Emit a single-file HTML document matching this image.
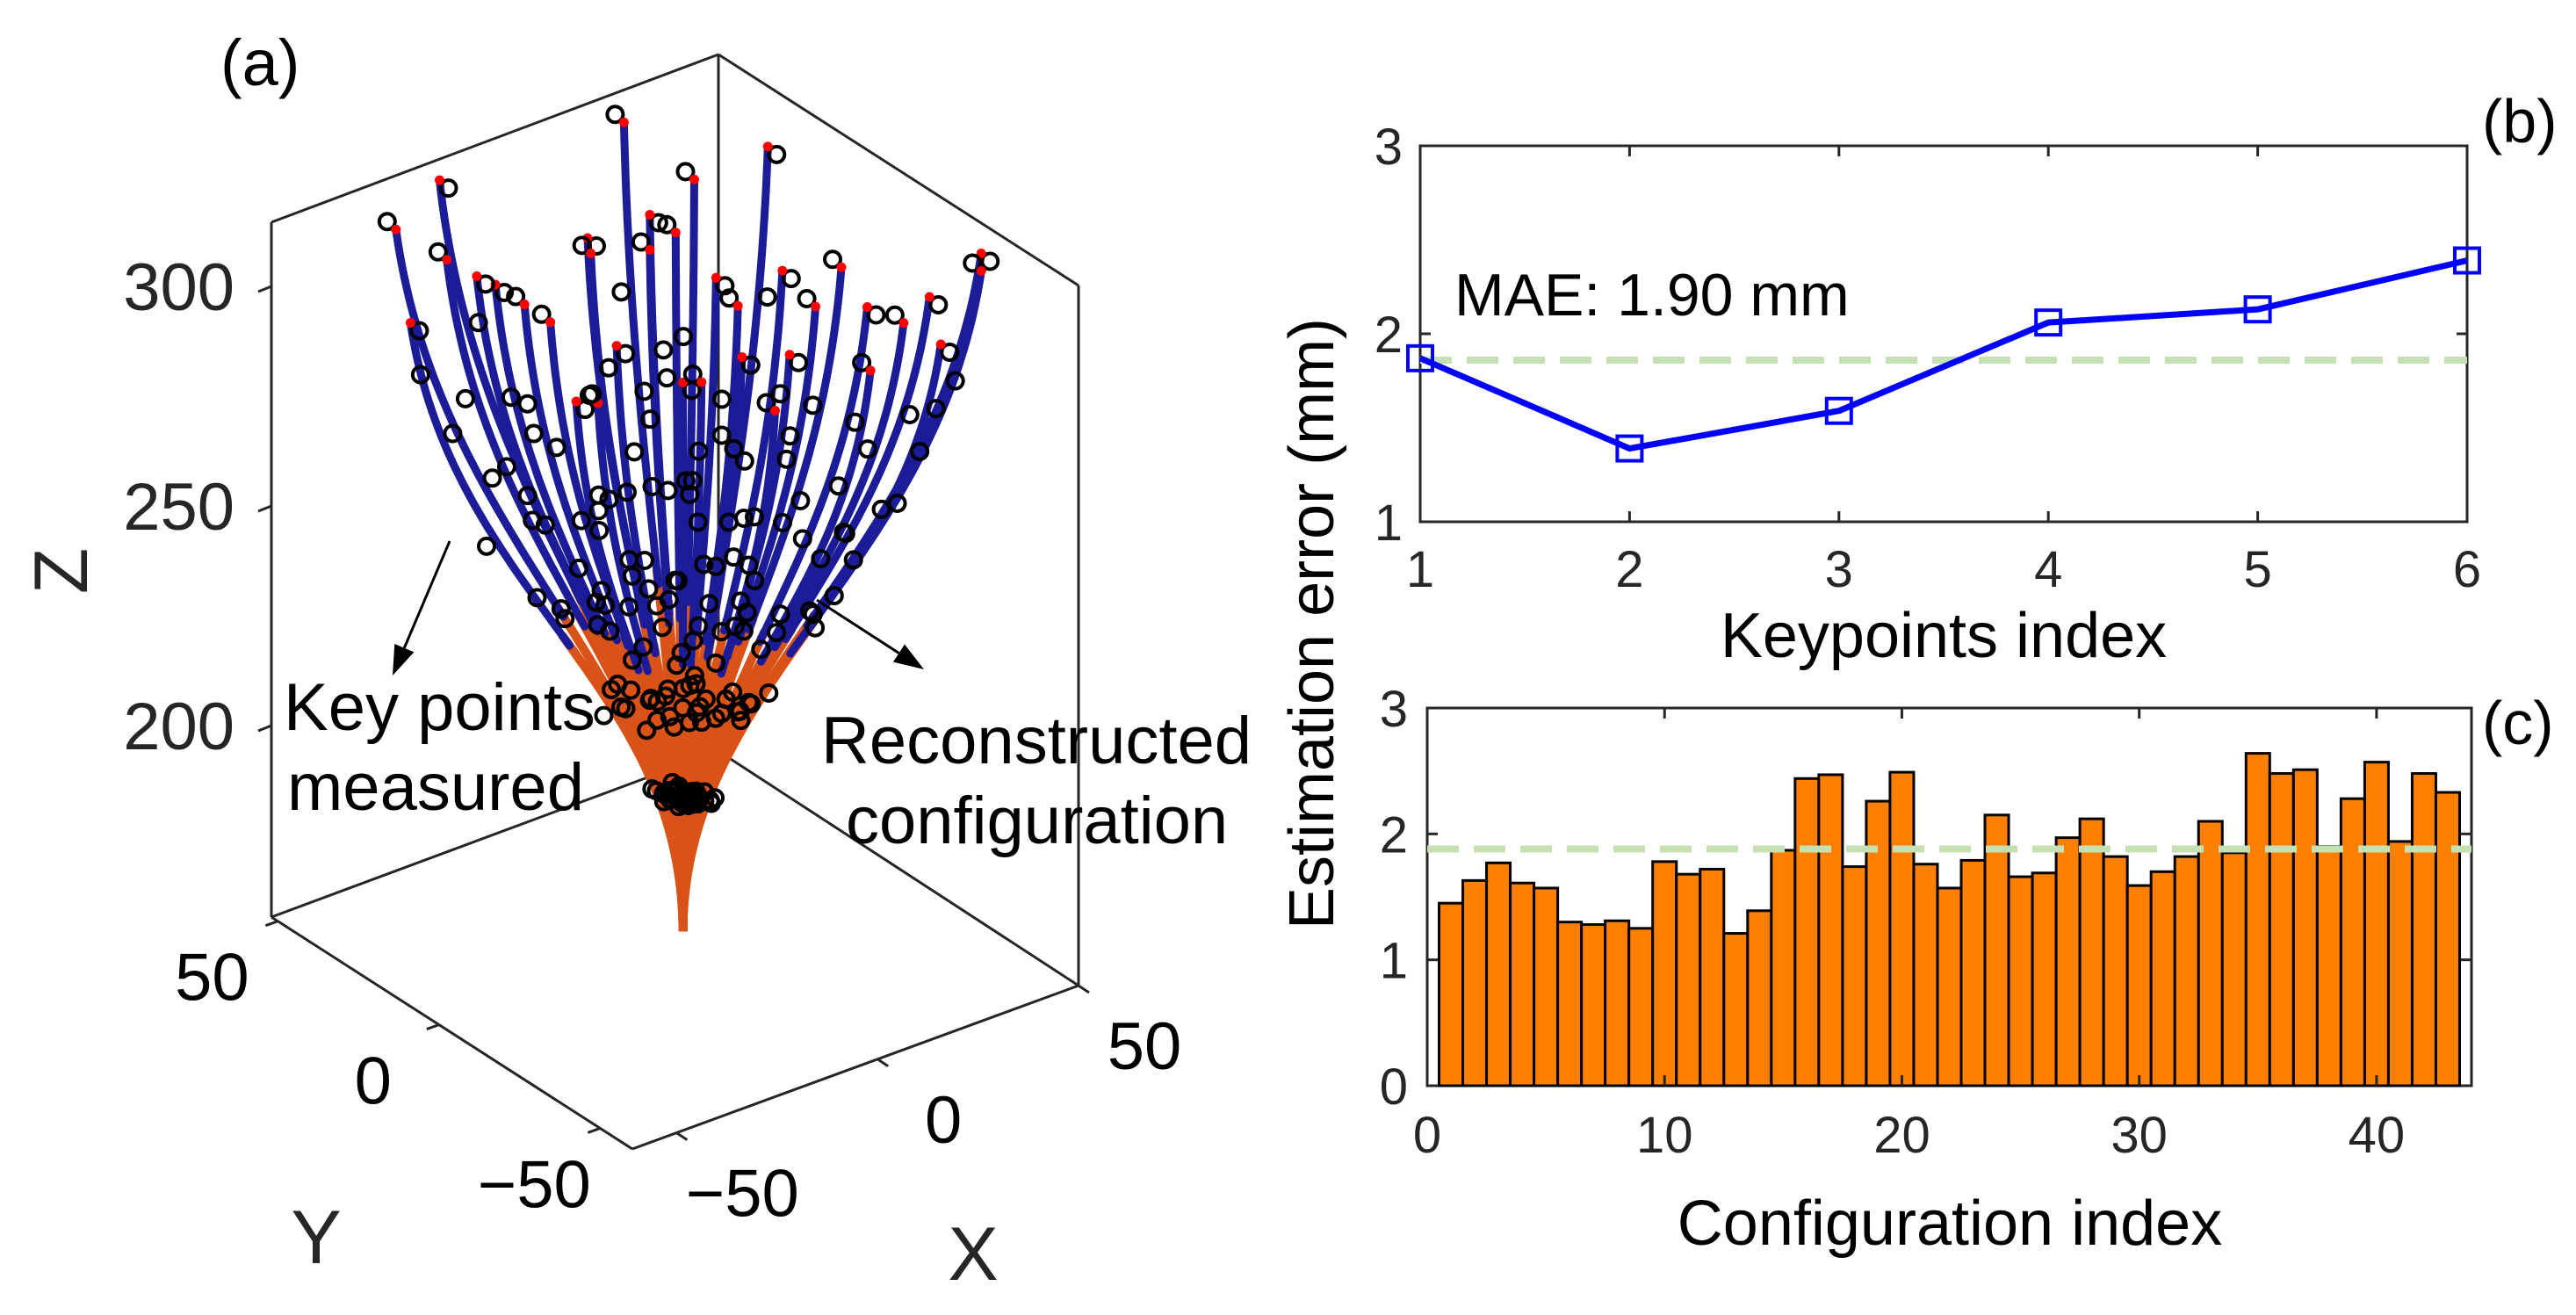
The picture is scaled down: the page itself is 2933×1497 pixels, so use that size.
<!DOCTYPE html>
<html><head><meta charset="utf-8"><style>
html,body{margin:0;padding:0;background:#fff;}
svg{display:block;font-family:"Liberation Sans",Arial,sans-serif;}
</style></head><body>
<svg id="fig" width="2933" height="1497" viewBox="0 0 2933 1497" xmlns="http://www.w3.org/2000/svg">
<g id="panelA"></g>
<g id="panelB"></g>
<g id="panelC"></g>
<text x="1494" y="710" font-size="72" text-anchor="middle" dominant-baseline="central" transform="rotate(-90 1494 710)" fill="#000">Estimation error (mm)</text>
</svg>
<script>
// ---------- Panel (a) data (3D, data units) ----------
const tipX = [-43,-37,-9,13,2,-41,-36,-28,-20,-16,-13,-5,-1,-14,-5,15,20,28,33,45,45,39,14,9,8,0,3,-10,24,37,-14,5,-24,16,28,-31];
const tipY = [35,29,7,-10,-1,33,28,23,16,13,10,4,1,12,4,-12,-16,-22,-27,-36,-36,-31,-11,-7,-7,0,-2,8,-19,-30,11,-4,19,-13,-23,25];
const tipZ = [316,328,342,337,329,295,310,304,296,278,278,321,317,315,313,309,301,301,298,314,310,293,277,289,301,283,283,291,310,304,312,307,300,290,287,306];
const keyT = [0.2,0.36,0.52,0.68,0.84,1.0];
const keyDx = [6,-10,12,-9,11,10];
const keyDy = [4,8,-7,9,-8,9];
const zTicks = [200,250,300];
const xTicks = [-50,0,50];
const yTicks = [-50,0,50];
// ---------- Panel (b) data ----------
const kpIndex = [1,2,3,4,5,6];
const kpError = [1.87,1.39,1.59,2.06,2.13,2.39];
const maeB = 1.86;
const bYTicks = [1,2,3];
// ---------- Panel (c) data ----------
const cfgError = [1.45,1.63,1.77,1.61,1.57,1.30,1.28,1.31,1.25,1.78,1.68,1.72,1.21,1.39,1.87,2.44,2.47,1.74,2.26,2.49,1.76,1.57,1.79,2.15,1.66,1.69,1.97,2.12,1.82,1.59,1.70,1.82,2.10,1.85,2.64,2.48,2.51,1.90,2.28,2.57,1.94,2.48,2.33];
const maeC = 1.88;
const cXTicks = [0,10,20,30,40];
const cYTicks = [0,1,2,3];

const NS="http://www.w3.org/2000/svg";
function mk(parent,tag,attrs,text){const e=document.createElementNS(NS,tag);for(const k in attrs)e.setAttribute(k,attrs[k]);if(text!==undefined)e.textContent=text;parent.appendChild(e);return e;}

// ===== Panel A =====
const A=document.getElementById('panelA');
function P(x,y,z){return [777.6+4.62*x-3.66*y, 1070.4-1.66*x-2.3*y-5.0*(z-156)];}
const boxLines=[[309,253,818,62],[818,62,1228,325],[309,253,309,1044],[1228,325,1228,1122],[309,1044,720,1308],[720,1308,1228,1122],[309,1044,818,855],[818,855,1228,1122],[818,62,818,855]];
boxLines.forEach(l=>{const e=mk(A,'line',{x1:l[0],y1:l[1],x2:l[2],y2:l[3],stroke:'#262626','stroke-width':3});

});
zTicks.forEach(v=>{const sy=1044-(v-156.4)*5.0;
const t=mk(A,'line',{x1:294,y1:sy+6,x2:309,y2:sy,stroke:'#262626','stroke-width':3});


const l=mk(A,'text',{x:267,y:sy+27,'font-size':76,'text-anchor':'end',fill:'#262626'},String(v));

});
yTicks.forEach((v,i)=>{const f=(52-v)/112;const sx=309+411*f, sy=1044+264*f;
const t=mk(A,'line',{x1:sx,y1:sy,x2:sx-14,y2:sy+5,stroke:'#262626','stroke-width':3});


const lab=v<0?'\u221250':String(v);
const l=mk(A,'text',{x:sx-75,y:sy+90,'font-size':76,'text-anchor':'middle',fill:'#000'},lab);

});
xTicks.forEach(v=>{const f=(v+61)/111;const sx=720+508*f, sy=1308-186*f;
const t=mk(A,'line',{x1:sx,y1:sy,x2:sx+12,y2:sy+8,stroke:'#262626','stroke-width':3});


const lab=v<0?'\u221250':String(v);
const l=mk(A,'text',{x:sx+75,y:sy+95,'font-size':76,'text-anchor':'middle',fill:'#000'},lab);

});
[['Z',70,650,-90],['Y',360,1409,0],['X',1108,1428,0]].forEach(a=>{
const l=mk(A,'text',{x:a[1],y:a[2],'font-size':86,'text-anchor':'middle','dominant-baseline':'central',fill:'#262626',transform:'rotate('+a[3]+' '+a[1]+' '+a[2]+')'},a[0]);

});
function bez(i,t){const p0=[0,0,158],p1=[0,0,215],p2=[0.85*tipX[i],0.85*tipY[i],0.45*158+0.55*tipZ[i]],p3=[tipX[i],tipY[i],tipZ[i]];
const u=1-t,a=u*u*u,b=3*u*u*t,c=3*u*t*t,d=t*t*t;
return P(a*p0[0]+b*p1[0]+c*p2[0]+d*p3[0],a*p0[1]+b*p1[1]+c*p2[1]+d*p3[1],a*p0[2]+b*p1[2]+c*p2[2]+d*p3[2]);}
function seg(i,t0,t1){let s='';for(let k=0;k<=40;k++){const t=t0+(t1-t0)*k/40;const p=bez(i,t);s+=(k?'L':'M')+p[0].toFixed(1)+' '+p[1].toFixed(1);}return s;}
const gO=mk(A,'g',{});
const gB=mk(A,'g',{});
const gK=mk(A,'g',{});
tipX.forEach((_,i)=>{
const o=mk(gO,'path',{d:seg(i,0,0.5),fill:'none',stroke:'#d95319','stroke-width':10,'stroke-linecap':'butt'});


const b=mk(gB,'path',{d:seg(i,0.48,1),fill:'none',stroke:'#1c1c99','stroke-width':9,'stroke-linecap':'round'});


});
tipX.forEach((_,i)=>{
keyT.forEach((t,j)=>{const p=bez(i,t);const s=(i%2?1:-1);
const c=mk(gK,'circle',{cx:p[0]+s*keyDx[j],cy:p[1]+keyDy[j]*s,r:9,fill:'none',stroke:'#000','stroke-width':4});

});
const p=bez(i,1);const r=mk(gK,'circle',{cx:p[0],cy:p[1],r:5.5,fill:'#ff0000'});


});
[['Key points',323,831],['measured',327,922],['Reconstructed',935,869],['configuration',963,960]].forEach(a=>{
const l=mk(A,'text',{x:a[1],y:a[2],'font-size':76,fill:'#000'},a[0]);

});
function arrow(x1,y1,x2,y2){const g=mk(A,'g',{});


const ang=Math.atan2(y2-y1,x2-x1),L=34,W=12;
const bx=x2-L*Math.cos(ang),by=y2-L*Math.sin(ang);
mk(g,'line',{x1:x1,y1:y1,x2:bx,y2:by,stroke:'#000','stroke-width':3});
mk(g,'polygon',{points:`${x2},${y2} ${bx-W*Math.sin(ang)},${by+W*Math.cos(ang)} ${bx+W*Math.sin(ang)},${by-W*Math.cos(ang)}`,fill:'#000'});}
arrow(512,616,447,769);arrow(930,683,1052,762);
const la=mk(A,'text',{x:251,y:97,'font-size':74,fill:'#000'},'(a)');



// ===== Panel B =====
const B=document.getElementById('panelB');
const bx0=1617,bx1=2809,by0=594,by1=166;
const bX=v=>bx0+(v-1)*(bx1-bx0)/5, bY=v=>by0-(v-1)*(by0-by1)/2;
const fb=mk(B,'rect',{x:bx0,y:by1,width:bx1-bx0,height:by0-by1,fill:'#fff',stroke:'#262626','stroke-width':3});

kpIndex.forEach(v=>{const x=bX(v);
const t1=mk(B,'line',{x1:x,y1:by0,x2:x,y2:by0-12,stroke:'#262626','stroke-width':3});

const t2=mk(B,'line',{x1:x,y1:by1,x2:x,y2:by1+12,stroke:'#262626','stroke-width':3});

const l=mk(B,'text',{x:x,y:668,'font-size':58,'text-anchor':'middle',fill:'#262626'},String(v));
});
bYTicks.forEach(v=>{const y=bY(v);
const t=mk(B,'line',{x1:bx0,y1:y,x2:bx0+12,y2:y,stroke:'#262626','stroke-width':3});

const t2=mk(B,'line',{x1:bx1,y1:y,x2:bx1-12,y2:y,stroke:'#262626','stroke-width':3});

const l=mk(B,'text',{x:1597,y:y+21,'font-size':58,'text-anchor':'end',fill:'#262626'},String(v));
});
const mb=mk(B,'line',{x1:bx0,y1:bY(maeB),x2:bx1,y2:bY(maeB),stroke:'#c5e0b3','stroke-width':8,'stroke-dasharray':'36 17'});

const lineB=mk(B,'polyline',{points:kpIndex.map((v,i)=>bX(v)+','+bY(kpError[i])).join(' '),fill:'none',stroke:'#0000ff','stroke-width':7,'stroke-linejoin':'round'});

kpIndex.forEach((v,i)=>{const m=mk(B,'rect',{x:bX(v)-14,y:bY(kpError[i])-14,width:28,height:28,fill:'none',stroke:'#0000ff','stroke-width':4});
});
const mt=mk(B,'text',{x:1656,y:359,'font-size':68,fill:'#000'},'MAE: 1.90 mm');

const xtB=mk(B,'text',{x:2213,y:748,'font-size':72,'text-anchor':'middle',fill:'#000'},'Keypoints index');

const lb=mk(B,'text',{x:2826,y:162,'font-size':70,fill:'#000'},'(b)');


// ===== Panel C =====
const C=document.getElementById('panelC');
const cx0=1625,cx1=2814,cy0=1236,cy1=806;
const cX=v=>cx0+v*(cx1-cx0)/44, cY=v=>cy0-v*(cy0-cy1)/3;
const fc=mk(C,'rect',{x:cx0,y:cy1,width:cx1-cx0,height:cy0-cy1,fill:'#fff',stroke:'#262626','stroke-width':3});

cfgError.forEach((v,i)=>{const x=cX(i+0.5);const b=mk(C,'rect',{x:x,y:cY(v),width:cX(1)-cX(0),height:cY(0)-cY(v),fill:'#ff8000',stroke:'#000','stroke-width':3});
});
cXTicks.forEach(v=>{const x=cX(v);
const t1=mk(C,'line',{x1:x,y1:cy0,x2:x,y2:cy0-12,stroke:'#262626','stroke-width':3});

const t2=mk(C,'line',{x1:x,y1:cy1,x2:x,y2:cy1+12,stroke:'#262626','stroke-width':3});

const l=mk(C,'text',{x:x,y:1312,'font-size':58,'text-anchor':'middle',fill:'#262626'},String(v));
});
cYTicks.forEach(v=>{const y=cY(v);
const t=mk(C,'line',{x1:cx0,y1:y,x2:cx0+12,y2:y,stroke:'#262626','stroke-width':3});

const t2=mk(C,'line',{x1:cx1,y1:y,x2:cx1-12,y2:y,stroke:'#262626','stroke-width':3});

const l=mk(C,'text',{x:1603,y:y+21,'font-size':58,'text-anchor':'end',fill:'#262626'},String(v));
});
const mc=mk(C,'line',{x1:cx0,y1:cY(maeC),x2:cx1,y2:cY(maeC),stroke:'#c5e0b3','stroke-width':8,'stroke-dasharray':'36 17'});

const xtC=mk(C,'text',{x:2220,y:1417,'font-size':72,'text-anchor':'middle',fill:'#000'},'Configuration index');

const lc=mk(C,'text',{x:2826,y:847,'font-size':70,fill:'#000'},'(c)');

</script>
</body></html>
